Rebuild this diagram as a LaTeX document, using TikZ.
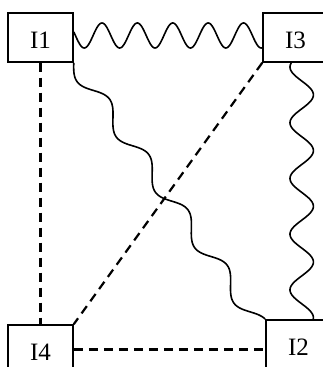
\documentclass[tikz,border=0pt]{standalone}
\usepackage{fontspec}
\setmainfont{Liberation Serif}
\usetikzlibrary{calc}
\begin{document}
\begin{tikzpicture}[x=1pt,y=1pt,
  ibox/.style={draw, line width=1.5pt, minimum width=65pt, minimum height=49pt,
    inner sep=0pt, text height=21.6pt, text depth=0pt,
    font=\fontsize{25}{30}\selectfont},
  dashline/.style={line width=2.2pt, dash pattern=on 9pt off 6pt},
  wave/.style={line width=1.6pt, line join=round}]
\useasboundingbox (0,0) rectangle (323,367);
\clip (0,0) rectangle (323,367);
\node[ibox] (I1) at (40.5,329.5) {I1};
\node[ibox] (I3) at (295.5,329.5) {I3};
\node[ibox] (I4) at (40.5,17.5) {I4};
\node[ibox] (I2) at (298.5,22.5) {I2};
% dashed connectors
\draw[dashline] (I1) -- (I4);
\draw[dashline] (I3.south west) -- (I4.north east);
\draw[dashline] (I4) -- (I4 -| I2.west);
% wavy I1 -- I3
\draw[wave] let \p1=(I1.east), \p2=(I3.west) in
  plot[domain=0:1, samples=240, variable=\t]
  ({\x1 + \t*(\x2-\x1)}, {\y1 + 2 - 12.5*cos((\t*(\x2-\x1) - 10.5)/35.4*360)});
% wavy I3 -- I2
\draw[wave] let \p1=(I3.south), \p2=(I2.north) in
  plot[domain=0:1, samples=240, variable=\t]
  ({\x1 + 6.2 - 11.7*cos((\t*(\y1-\y2) - 4.3)/55.7*360)}, {\y1 + \t*(\y2-\y1)});
% wavy I1 -- I2
\draw[wave] let \p1=(I1.south east), \p2=(I2.north west),
  \n1={veclen(\x2-\x1,\y2-\y1)} in
  plot[domain=0:1, samples=300, variable=\t]
  ({\x1 + \t*(\x2-\x1) + 8.2*(sin(360*4.72*\t) - \t*sin(360*4.72))*(\y2-\y1)/\n1},
   {\y1 + \t*(\y2-\y1) + 8.2*(sin(360*4.72*\t) - \t*sin(360*4.72))*(\x1-\x2)/\n1});
\end{tikzpicture}
\end{document}
